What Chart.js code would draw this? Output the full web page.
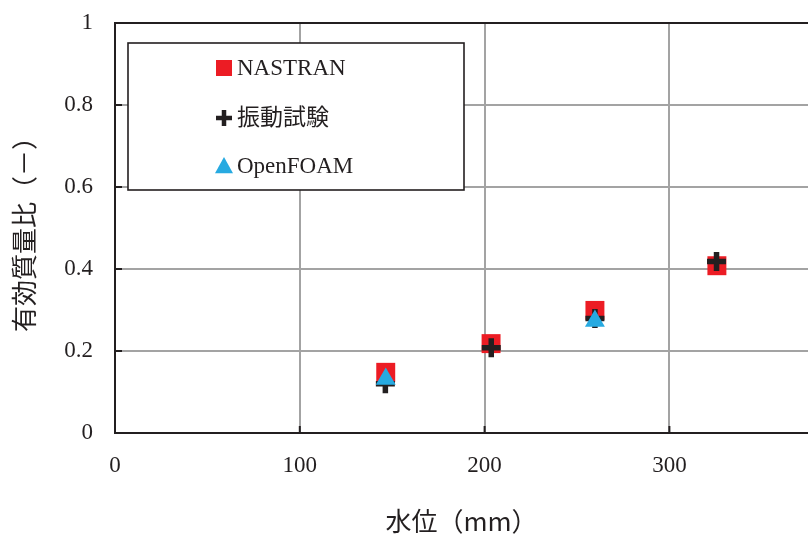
<!DOCTYPE html>
<html><head><meta charset="utf-8">
<script src="https://cdn.jsdelivr.net/npm/chart.js@4/dist/chart.umd.min.js"></script>
<style>html,body{margin:0;padding:0;background:#fff;overflow:hidden}#wrap{width:808px;height:537px;position:relative}</style>
</head><body><div id="wrap"><canvas id="c"></canvas></div>
<script>
// ---- data ----
const seriesNames = ['NASTRAN', '振動試験', 'OpenFOAM'];
const nastranX = [146.5, 203.5, 259.7, 325.7];
const nastranY = [0.148, 0.218, 0.299, 0.408];
const testX = [146.3, 203.6, 259.7, 325.5];
const testY = [0.120, 0.208, 0.279, 0.418];
const foamX = [146.5, 259.7];
const foamY = [0.132, 0.273];
const xAxisTitle = '水位（mm）';
const yAxisTitle = '有効質量比（－）';
const xRange = [0, 375];
const xStep = 100;
const yRange = [0, 1];
const yStep = 0.2;

const RED = '#ec1c24', BLACK = '#231f20', CYAN = '#27aae1', GRID = '#a3a3a3';
const TICK_FONT = {family: '"Liberation Serif", "Noto Sans CJK JP", serif', size: 23};
const TITLE_FONT = {family: '"Noto Sans CJK JP", sans-serif', size: 26};

function pts(xs, ys) { return xs.map((x, i) => ({x: x, y: ys[i]})); }

function drawMarker(ctx, style, x, y, r) {
  ctx.beginPath();
  if (style === 'rect') {
    ctx.fillStyle = RED;
    ctx.fillRect(x - r, y - r, 2 * r, 2 * r);
  } else if (style === 'cross') {
    ctx.strokeStyle = BLACK;
    ctx.lineWidth = 4.5;
    ctx.moveTo(x - r, y); ctx.lineTo(x + r, y);
    ctx.moveTo(x, y - r); ctx.lineTo(x, y + r);
    ctx.stroke();
  } else {
    ctx.fillStyle = CYAN;
    ctx.moveTo(x, y - r);
    ctx.lineTo(x + r, y + r * 0.8);
    ctx.lineTo(x - r, y + r * 0.8);
    ctx.closePath();
    ctx.fill();
  }
}

const extras = {
  id: 'extras',
  beforeDatasetsDraw(chart) {
    const ctx = chart.ctx, xs = chart.scales.x, ys = chart.scales.y, a = chart.chartArea;
    ctx.save();
    ctx.strokeStyle = BLACK;
    ctx.lineWidth = 2;
    ys.ticks.forEach(t => {
      const p = ys.getPixelForValue(t.value);
      ctx.beginPath(); ctx.moveTo(a.left, p); ctx.lineTo(a.left + 7, p); ctx.stroke();
    });
    xs.ticks.forEach(t => {
      const p = xs.getPixelForValue(t.value);
      ctx.beginPath(); ctx.moveTo(p, a.bottom); ctx.lineTo(p, a.bottom - 7); ctx.stroke();
    });
    ctx.restore();
  },
  afterDraw(chart) {
    const ctx = chart.ctx;
    ctx.save();
    ctx.fillStyle = '#fff';
    ctx.fillRect(128, 43, 336, 147);
    ctx.strokeStyle = BLACK;
    ctx.lineWidth = 1.6;
    ctx.strokeRect(128, 43, 336, 147);
    const styles = ['rect', 'cross', 'triangle'];
    const rows = [68, 118, 166];
    const sizes = [8, 8, 9];
    ctx.font = '23px "Liberation Serif", "Noto Sans CJK JP", serif';
    ctx.textBaseline = 'middle';
    ctx.textAlign = 'left';
    seriesNames.forEach((n, i) => {
      drawMarker(ctx, styles[i], 224, rows[i], sizes[i]);
      ctx.fillStyle = BLACK;
      ctx.fillText(n, 237, rows[i] + 1);
    });
    ctx.restore();
  }
};

new Chart(document.getElementById('c'), {
  type: 'scatter',
  data: {
    datasets: [
      {label: seriesNames[0], data: pts(nastranX, nastranY), pointStyle: 'rect', pointRadius: 13.4,
       backgroundColor: RED, borderColor: RED, borderWidth: 0, order: 3},
      {label: seriesNames[1], data: pts(testX, testY), pointStyle: 'cross', pointRadius: 9.5,
       backgroundColor: BLACK, borderColor: BLACK, borderWidth: 5.5, order: 2},
      {label: seriesNames[2], data: pts(foamX, foamY), pointStyle: 'triangle', pointRadius: 11.5,
       backgroundColor: CYAN, borderColor: CYAN, borderWidth: 0, order: 1}
    ]
  },
  options: {
    responsive: true,
    maintainAspectRatio: false,
    animation: false,
    events: [],
    layout: {autoPadding: false, padding: {top: 23, left: 0, right: 0, bottom: 0}},
    plugins: {legend: {display: false}, tooltip: {enabled: false}},
    scales: {
      x: {
        type: 'linear', min: xRange[0], max: xRange[1],
        ticks: {stepSize: xStep, includeBounds: false, padding: 19, color: BLACK, font: TICK_FONT, maxRotation: 0},
        grid: {color: GRID, lineWidth: 2, drawTicks: false},
        border: {color: BLACK, width: 2},
        title: {display: true, text: xAxisTitle, color: BLACK, font: TITLE_FONT, padding: {top: 0, bottom: 0}},
        afterFit(s) { s.height = 104; s.paddingLeft = 0; s.paddingRight = 0; }
      },
      y: {
        type: 'linear', min: yRange[0], max: yRange[1],
        ticks: {stepSize: yStep, padding: 22, color: BLACK, font: TICK_FONT,
                callback: (v) => (v === 0 || v === 1) ? String(v) : v.toFixed(1)},
        grid: {color: (c) => (c.tick && c.tick.value === 1 ? BLACK : GRID), lineWidth: 2, drawTicks: false},
        border: {color: BLACK, width: 2},
        title: {display: true, text: yAxisTitle, color: BLACK, font: TITLE_FONT, padding: {top: 9, bottom: 0}},
        afterFit(s) { s.width = 115; s.paddingTop = 0; s.paddingBottom = 0; }
      }
    }
  },
  plugins: [extras]
});
</script></body></html>
